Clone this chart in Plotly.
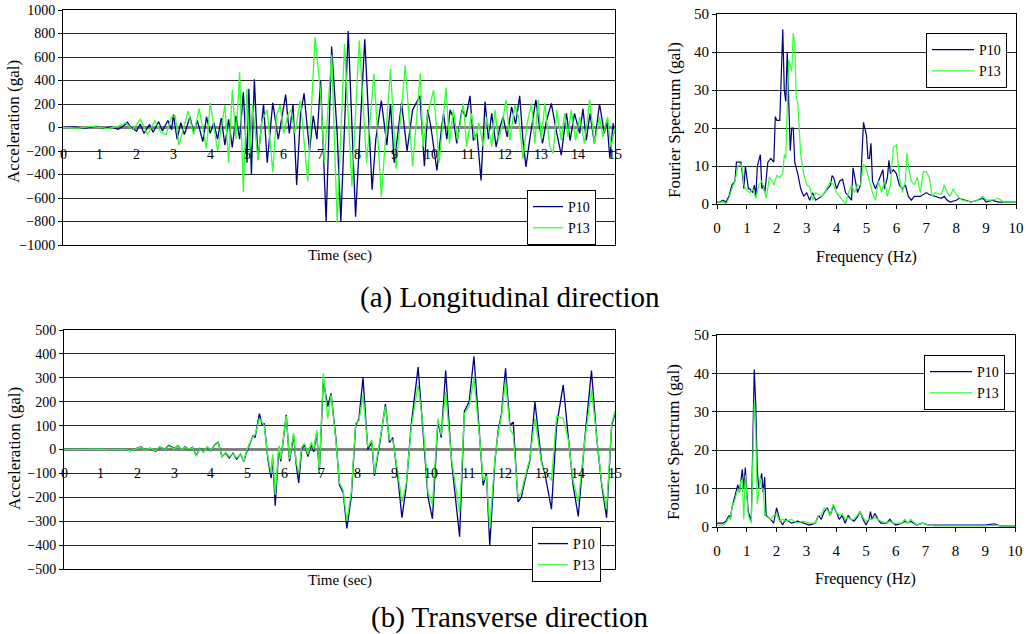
import plotly.graph_objects as go

FONT = "Liberation Serif, Times New Roman, serif"
BLUE = "#000080"
GREEN = "#33FF33"
W, H = 1026, 634

# ---------------- data ----------------
series_names = ["P10", "P13"]
time_ticks = list(range(0, 16))
freq_ticks = list(range(0, 11))

# (a) Longitudinal, acceleration time history (time s, gal)
a_time_p10 = [(0.0, 0), (0.3, 5), (0.6, -5), (0.9, 10), (1.1, -10), (1.3, 5), (1.5, -15), (1.65, 15),
              (1.75, 45), (1.85, 0), (2.0, -30), (2.1, 30), (2.2, -50), (2.35, 25), (2.45, -40),
              (2.6, 50), (2.7, -30), (2.85, 60), (2.95, -20), (3.0, 110), (3.1, -100), (3.2, 40),
              (3.3, -60), (3.45, 90), (3.55, -40), (3.65, 60), (3.8, -120), (3.9, 90), (4.0, -50),
              (4.1, 40), (4.2, -100), (4.3, 80), (4.4, -150), (4.5, 70), (4.6, -170), (4.7, 100),
              (4.8, -100), (4.9, 300), (5.0, -300), (5.05, 330), (5.12, -400), (5.2, 410), (5.3, -270),
              (5.45, 200), (5.55, -300), (5.7, 210), (5.85, -100), (5.95, 80), (6.05, 280), (6.15, -50),
              (6.25, 200), (6.35, -490), (6.45, 100), (6.55, 290), (6.7, -200), (6.8, 100), (6.9, -100),
              (7.0, 400), (7.15, -800), (7.3, 690), (7.45, -50), (7.55, -800), (7.75, 820), (7.95, -760),
              (8.1, 200), (8.2, 750), (8.4, -530), (8.5, -100), (8.65, 230), (8.8, -150), (8.9, 200),
              (9.0, -300), (9.2, 210), (9.35, -200), (9.5, 150), (9.7, 270), (9.82, -330), (9.91, 150),
              (10.0, 0), (10.16, -365), (10.27, -50), (10.34, 120), (10.43, -100), (10.52, 150),
              (10.6, 90), (10.7, -135), (10.84, 150), (10.95, 90), (11.06, 270), (11.15, -110),
              (11.25, -50), (11.36, -450), (11.47, 220), (11.56, -100), (11.65, 120), (11.77, -165),
              (11.87, 0), (11.96, 90), (12.07, -80), (12.19, 175), (12.3, 30), (12.41, 270), (12.5, -110),
              (12.58, -335), (12.68, -110), (12.85, 235), (12.95, 0), (13.03, -135), (13.14, 60),
              (13.27, 205), (13.4, -20), (13.54, -235), (13.68, 120), (13.78, -110), (13.9, 120),
              (14.04, -50), (14.13, 160), (14.22, -110), (14.32, 120), (14.44, -135), (14.58, 200),
              (14.71, -50), (14.78, 60), (14.86, -260), (14.95, 35), (15.0, -50)]

a_time_p13 = [(0.0, 0), (0.4, -5), (0.8, 10), (1.2, -10), (1.5, 10), (1.7, 40), (1.9, -20), (2.1, 70),
              (2.3, -60), (2.5, 60), (2.65, -40), (2.8, -60), (2.95, 90), (3.05, 100), (3.15, -150),
              (3.4, 140), (3.55, -60), (3.7, 160), (3.9, -180), (4.0, 210), (4.2, -200), (4.4, 190),
              (4.5, -300), (4.6, 320), (4.7, -100), (4.8, 470), (4.9, -550), (5.0, 330), (5.07, -250),
              (5.15, 200), (5.3, -280), (5.4, 50), (5.55, 150), (5.7, -380), (5.8, 100), (5.9, 190),
              (6.0, -50), (6.1, 100), (6.2, 150), (6.3, -50), (6.45, 230), (6.65, -460), (6.85, 770),
              (7.0, 300), (7.1, -300), (7.3, 620), (7.45, -810), (7.65, 710), (7.85, -500), (8.05, 740),
              (8.25, -300), (8.45, 460), (8.65, -590), (8.9, 500), (9.05, -350), (9.3, 530), (9.5, -330),
              (9.71, 460), (9.78, -165), (9.9, 100), (10.07, 320), (10.22, -300), (10.41, 340),
              (10.5, -135), (10.61, 150), (10.72, -110), (10.88, 205), (10.97, -165), (11.1, 120),
              (11.2, -110), (11.3, 40), (11.42, -165), (11.51, 90), (11.65, -165), (11.74, 150),
              (11.83, -110), (11.93, 20), (12.04, 235), (12.14, -110), (12.28, 190), (12.38, 90),
              (12.5, -265), (12.61, 30), (12.73, 205), (12.82, -135), (12.91, 235), (13.0, -110),
              (13.09, 205), (13.23, -165), (13.32, -220), (13.42, 150), (13.54, -110), (13.63, 120),
              (13.72, -80), (13.81, 150), (13.93, -110), (14.04, 90), (14.17, -135), (14.31, 235),
              (14.44, -135), (14.58, 90), (14.67, -80), (14.8, 90), (14.89, -165), (15.0, 0)]

# (a) Longitudinal, Fourier spectrum (Hz, gal)
a_spec_p10 = [(0.0, 0.5), (0.1, 0.5), (0.2, 1), (0.3, 0.5), (0.4, 2), (0.5, 5), (0.6, 6), (0.65, 11),
              (0.7, 11), (0.8, 11), (0.85, 8), (0.9, 4), (0.95, 10), (1.0, 6), (1.05, 4), (1.1, 4),
              (1.2, 3), (1.25, 5), (1.3, 2), (1.35, 10), (1.45, 13), (1.5, 4), (1.55, 5), (1.6, 3),
              (1.7, 11), (1.8, 12), (1.9, 11), (1.95, 23), (2.0, 22), (2.1, 22), (2.2, 46), (2.25, 30),
              (2.3, 27), (2.35, 40), (2.4, 25), (2.45, 14), (2.5, 20), (2.55, 20), (2.6, 11), (2.7, 8),
              (2.8, 4), (2.9, 2), (3.0, 3), (3.1, 1), (3.2, 3), (3.3, 1), (3.5, 2), (3.6, 3), (3.8, 5),
              (3.85, 7.5), (3.9, 7), (4.0, 4), (4.1, 6), (4.2, 6.5), (4.3, 3), (4.4, 2), (4.5, 1),
              (4.55, 9.5), (4.6, 7), (4.7, 3), (4.8, 5), (4.9, 21.5), (5.0, 18), (5.05, 12), (5.1, 12),
              (5.15, 16), (5.2, 6), (5.3, 4), (5.4, 6), (5.5, 8), (5.55, 9), (5.6, 4), (5.7, 7),
              (5.75, 11.5), (5.8, 8), (5.9, 9), (6.0, 8), (6.1, 5), (6.2, 4), (6.3, 5), (6.4, 2),
              (6.5, 1), (6.6, 2), (6.8, 2), (7.0, 3), (7.1, 2.5), (7.3, 2), (7.5, 1.5), (7.6, 2),
              (7.7, 1), (7.8, 0.5), (8.0, 1), (8.1, 1.5), (8.3, 1), (8.5, 0.5), (8.7, 1), (8.9, 1.5),
              (9.0, 0.5), (9.2, 1), (9.4, 0.5), (9.6, 0.5), (9.8, 0.5), (10.0, 0.5)]

a_spec_p13 = [(0.0, 0.5), (0.2, 0.5), (0.3, 0), (0.4, 1.5), (0.5, 4), (0.6, 6), (0.7, 10), (0.8, 10.5),
              (0.85, 9), (0.9, 5), (1.0, 3.5), (1.1, 3), (1.2, 4), (1.3, 1.5), (1.4, 5), (1.5, 6),
              (1.6, 3), (1.65, 1.5), (1.75, 7), (1.85, 6), (1.9, 5), (2.0, 7.5), (2.1, 7), (2.2, 8),
              (2.25, 13), (2.3, 12), (2.4, 38), (2.45, 36), (2.5, 35), (2.55, 45), (2.6, 42), (2.65, 28),
              (2.7, 27), (2.8, 13), (2.9, 8), (3.0, 5), (3.1, 4.5), (3.2, 1), (3.3, 3), (3.5, 2),
              (3.6, 3), (3.8, 6), (3.9, 5), (4.0, 3), (4.1, 2), (4.2, 1), (4.3, 0), (4.4, 3), (4.5, 5),
              (4.6, 3), (4.7, 5), (4.8, 5), (4.9, 10.5), (5.0, 9), (5.1, 6), (5.2, 3), (5.3, 1),
              (5.4, 6), (5.5, 3), (5.6, 6), (5.7, 2), (5.8, 5), (5.9, 15), (6.0, 15.5), (6.1, 7),
              (6.2, 3), (6.3, 6), (6.35, 13.5), (6.4, 10), (6.5, 6), (6.6, 5), (6.7, 7), (6.8, 3),
              (6.9, 8.5), (7.0, 8.5), (7.1, 7), (7.2, 2), (7.3, 3), (7.5, 2.5), (7.6, 5), (7.7, 3),
              (7.8, 2), (7.9, 4), (8.0, 2.5), (8.2, 1), (8.5, 0.5), (8.7, 1), (8.9, 2), (9.0, 1),
              (9.2, 1), (9.4, 1.5), (9.6, 0.5), (9.8, 0.5), (10.0, 0.5)]

# (b) Transverse, acceleration time history (time s, gal)
b_time_p10 = [(0.0, 0), (0.5, 0), (1.0, 3), (1.3, -2), (1.6, 2), (1.8, -5), (2.0, 5), (2.1, 12), (2.2, -3),
              (2.35, 5), (2.5, -8), (2.6, 10), (2.75, 2), (2.85, 18), (3.0, 5), (3.1, 15), (3.2, -3),
              (3.3, 12), (3.4, 0), (3.5, 10), (3.6, -25), (3.7, 5), (3.8, -10), (3.9, 10), (4.0, -5),
              (4.1, 20), (4.2, 30), (4.3, -30), (4.4, -15), (4.5, -35), (4.6, -15), (4.7, -40),
              (4.8, -20), (4.9, -50), (4.95, -20), (5.05, 20), (5.15, 60), (5.2, 50), (5.32, 150),
              (5.4, 100), (5.45, 110), (5.55, -40), (5.64, -120), (5.68, -30), (5.75, -235), (5.85, 10),
              (5.9, -50), (6.05, 145), (6.14, -50), (6.25, 60), (6.32, -60), (6.39, -140), (6.47, 0),
              (6.55, 20), (6.64, -30), (6.73, 20), (6.8, -10), (6.88, 70), (6.95, -100), (7.06, 290),
              (7.18, 180), (7.27, 235), (7.4, 50), (7.5, -150), (7.6, -180), (7.7, -330), (7.82, -200),
              (7.94, 100), (8.03, 130), (8.14, 300), (8.27, 0), (8.38, 30), (8.45, -110), (8.6, 30),
              (8.75, 190), (8.86, 30), (8.95, 50), (9.09, -120), (9.2, -285), (9.32, -150), (9.45, 100),
              (9.64, 345), (9.77, 100), (9.91, -200), (10.03, -290), (10.18, 120), (10.27, 50),
              (10.39, 330), (10.55, -50), (10.77, -365), (10.9, 160), (11.03, 200), (11.16, 390),
              (11.32, 50), (11.41, -150), (11.5, -100), (11.59, -400), (11.73, -50), (11.82, 80),
              (11.91, 150), (12.02, 340), (12.14, 100), (12.23, 115), (12.36, -220), (12.45, -200),
              (12.59, -100), (12.68, -50), (12.82, 200), (13.0, -50), (13.09, -100), (13.27, -250),
              (13.41, 100), (13.59, 270), (13.73, 50), (13.86, -150), (14.0, -280), (14.18, 50),
              (14.36, 330), (14.5, 50), (14.64, -150), (14.77, -285), (14.91, 100), (15.0, 150)]

b_time_p13 = [(0.0, 0), (0.5, 0), (1.0, 2), (1.3, -2), (1.6, 2), (1.8, -5), (2.0, 4), (2.1, 10), (2.2, -4),
              (2.35, 6), (2.5, -6), (2.6, 12), (2.75, 0), (2.85, 15), (3.0, 3), (3.1, 18), (3.2, -2),
              (3.3, 10), (3.4, 2), (3.5, 8), (3.6, -28), (3.7, 3), (3.8, -12), (3.9, 12), (4.0, -3),
              (4.1, 18), (4.2, 28), (4.3, -32), (4.4, -12), (4.5, -30), (4.6, -18), (4.7, -35),
              (4.8, -22), (4.9, -48), (4.95, -15), (5.05, 25), (5.15, 55), (5.2, 60), (5.32, 130),
              (5.4, 110), (5.45, 100), (5.55, -30), (5.64, -100), (5.68, -20), (5.75, -190), (5.85, 15),
              (5.9, -40), (6.05, 140), (6.14, -40), (6.25, 70), (6.32, -50), (6.39, -100), (6.47, 10),
              (6.55, 25), (6.64, -20), (6.73, 30), (6.8, 0), (6.88, 80), (6.95, -95), (7.06, 320),
              (7.18, 130), (7.27, 230), (7.4, 40), (7.5, -140), (7.6, -170), (7.7, -300), (7.82, -180),
              (7.94, 110), (8.03, 120), (8.14, 230), (8.27, 10), (8.38, 40), (8.45, -100), (8.6, 40),
              (8.75, 180), (8.86, 40), (8.95, 40), (9.09, -100), (9.2, -220), (9.32, -140), (9.45, 90),
              (9.64, 270), (9.77, 110), (9.91, -180), (10.03, -230), (10.18, 130), (10.27, 60),
              (10.39, 240), (10.55, -40), (10.77, -265), (10.9, 150), (11.03, 180), (11.16, 300),
              (11.32, 40), (11.41, -130), (11.5, -110), (11.59, -330), (11.73, -40), (11.82, 70),
              (11.91, 140), (12.02, 290), (12.14, 90), (12.23, 60), (12.36, -200), (12.45, -180),
              (12.59, -90), (12.68, -40), (12.82, 130), (13.0, -60), (13.09, -90), (13.27, -130),
              (13.41, 140), (13.59, 130), (13.73, 40), (13.86, -130), (14.0, -220), (14.18, 40),
              (14.36, 250), (14.5, 40), (14.64, -140), (14.77, -250), (14.91, 110), (15.0, 160)]

# (b) Transverse, Fourier spectrum (Hz, gal)
b_spec_p10 = [(0.0, 1), (0.1, 1), (0.2, 1), (0.3, 1.5), (0.4, 3), (0.45, 2), (0.5, 5), (0.6, 8), (0.7, 11),
              (0.75, 9), (0.8, 13), (0.85, 15), (0.9, 10), (0.95, 15.5), (1.0, 9), (1.05, 4), (1.15, 1.5),
              (1.25, 41), (1.3, 32), (1.35, 15), (1.4, 10), (1.45, 12), (1.5, 14), (1.55, 9), (1.6, 13),
              (1.65, 3), (1.8, 2), (1.9, 1), (2.0, 5), (2.1, 2), (2.2, 0.5), (2.3, 2), (2.5, 1),
              (2.7, 1.5), (2.9, 1), (3.1, 0.5), (3.3, 1), (3.4, 3), (3.5, 2), (3.6, 4), (3.7, 5),
              (3.8, 3), (3.9, 5.5), (4.0, 4), (4.1, 2), (4.2, 3), (4.3, 1), (4.4, 3), (4.5, 2),
              (4.6, 1.5), (4.7, 2.5), (4.8, 4), (4.9, 2), (5.0, 0.5), (5.1, 2), (5.15, 4), (5.2, 2),
              (5.3, 3.5), (5.4, 2), (5.5, 1), (5.7, 1), (5.8, 2), (5.9, 1), (6.0, 0.5), (6.2, 1),
              (6.3, 1.5), (6.4, 1), (6.5, 1.5), (6.7, 0.5), (6.9, 1), (7.1, 0.5), (7.3, 0.5), (7.5, 0.5),
              (8.0, 0.5), (8.5, 0.5), (9.0, 0.5), (9.3, 0.8), (9.5, 0.3), (10.0, 0.3)]

b_spec_p13 = [(0.0, 0.5), (0.1, 0.5), (0.2, 0.5), (0.3, 1), (0.4, 2.5), (0.45, 2), (0.5, 5), (0.6, 7),
              (0.7, 10), (0.75, 9), (0.8, 12), (0.85, 12), (0.9, 2), (0.95, 13.5), (1.0, 8), (1.05, 3),
              (1.15, 1), (1.25, 32.5), (1.3, 25), (1.35, 6), (1.4, 9), (1.45, 13), (1.5, 10), (1.55, 10),
              (1.6, 3), (1.7, 2.5), (1.8, 2), (1.9, 3), (2.0, 3.5), (2.1, 1.5), (2.2, 2), (2.3, 1.5),
              (2.5, 2), (2.7, 1), (2.9, 1.5), (3.1, 1), (3.3, 1), (3.4, 3), (3.5, 3), (3.6, 5),
              (3.7, 4.5), (3.8, 3), (3.9, 6), (4.0, 4), (4.1, 3), (4.2, 3.5), (4.3, 2), (4.4, 2.5),
              (4.5, 2), (4.6, 2), (4.7, 3), (4.8, 4), (4.9, 2.5), (5.0, 1.5), (5.1, 2), (5.2, 2),
              (5.3, 2.5), (5.4, 2), (5.5, 1.5), (5.7, 1), (5.8, 1.5), (5.9, 1), (6.0, 1), (6.2, 1),
              (6.3, 2), (6.4, 1), (6.5, 2), (6.7, 0.5), (6.9, 1), (7.1, 0.5), (7.3, 0.3), (7.5, 0.3),
              (8.0, 0.3), (8.5, 0.3), (9.0, 0.3), (9.3, 0.5), (9.5, 0.3), (10.0, 0.3)]

# ---------------- figure ----------------
fig = go.Figure()


def add(pairs, name, color, xa, ya, legend, width):
    x, y = zip(*pairs)
    fig.add_trace(go.Scatter(x=list(x), y=list(y), mode="lines", name=name,
                             line=dict(color=color, width=width),
                             xaxis=xa, yaxis=ya, legend=legend))


add(a_time_p10, series_names[0], BLUE, "x", "y", "legend", 1.3)
add(a_time_p13, series_names[1], GREEN, "x", "y", "legend", 1.3)
add(a_spec_p10, series_names[0], BLUE, "x2", "y2", "legend2", 1.2)
add(a_spec_p13, series_names[1], GREEN, "x2", "y2", "legend2", 1.2)
add(b_time_p10, series_names[0], BLUE, "x3", "y3", "legend3", 1.3)
add(b_time_p13, series_names[1], GREEN, "x3", "y3", "legend3", 1.3)
add(b_spec_p10, series_names[0], BLUE, "x4", "y4", "legend4", 1.2)
add(b_spec_p13, series_names[1], GREEN, "x4", "y4", "legend4", 1.2)


def xdom(p0, p1):
    return [p0 / W, p1 / W]


def ydom(top, bottom):
    return [1 - bottom / H, 1 - top / H]


tickfont = dict(family=FONT, size=14, color="black")
spectick = dict(family=FONT, size=15, color="black")
common = dict(showline=True, mirror=True, linecolor="black", linewidth=1,
              automargin=False, fixedrange=True)

time_x = dict(common, range=[0, 15], showgrid=False, zeroline=False,
              showticklabels=False, ticks="")
spec_x = dict(common, tickfont=spectick, tickvals=freq_ticks, range=[0, 10], showgrid=False,
              zeroline=False, ticks="outside", ticklen=4, tickcolor="black", ticklabelstandoff=6)
grid = dict(showgrid=True, gridcolor="#262626", gridwidth=1, ticks="outside",
            ticklen=4, tickcolor="black")

fig.update_layout(
    width=W, height=H, template="none",
    paper_bgcolor="white", plot_bgcolor="white",
    margin=dict(l=0, r=0, t=0, b=0),
    font=dict(family=FONT, color="black"),
    xaxis=dict(time_x, domain=xdom(63, 615), anchor="y"),
    yaxis=dict(common, **grid, tickfont=tickfont, domain=ydom(10, 245), range=[-1000, 1000],
               dtick=200, zeroline=True, zerolinecolor="#7f7f7f", zerolinewidth=3, anchor="x"),
    xaxis2=dict(spec_x, domain=xdom(717, 1016), anchor="y2"),
    yaxis2=dict(common, **grid, tickfont=spectick, domain=ydom(14, 204), range=[0, 50], dtick=10,
                zeroline=False, anchor="x2"),
    xaxis3=dict(time_x, domain=xdom(64, 615), anchor="y3"),
    yaxis3=dict(common, **grid, tickfont=tickfont, domain=ydom(330, 569), range=[-500, 500],
                dtick=100, zeroline=True, zerolinecolor="#7f7f7f", zerolinewidth=3, anchor="x3"),
    xaxis4=dict(spec_x, domain=xdom(717, 1015), anchor="y4"),
    yaxis4=dict(common, **grid, tickfont=spectick, domain=ydom(335, 527), range=[0, 50], dtick=10,
                zeroline=False, anchor="x4"),
)

legend_style = dict(xanchor="left", yanchor="top", bgcolor="white", bordercolor="black",
                    borderwidth=1, font=dict(family=FONT, size=14, color="black"),
                    tracegroupgap=0, itemwidth=30)
fig.update_layout(
    showlegend=True,
    legend=dict(legend_style, x=527 / W, y=1 - 190 / H),
    legend2=dict(legend_style, x=926 / W, y=1 - 33 / H, itemwidth=42),
    legend3=dict(legend_style, x=532 / W, y=1 - 527 / H),
    legend4=dict(legend_style, x=924 / W, y=1 - 355 / H, itemwidth=42),
)

ann = []
# time-axis tick labels sit just below the zero line (Excel style)
for t in time_ticks:
    ann.append(dict(x=t, y=0, xref="x", yref="y", text=str(t), showarrow=False,
                    yshift=-27, font=tickfont))
    ann.append(dict(x=t, y=0, xref="x3", yref="y3", text=str(t), showarrow=False,
                    yshift=-24, font=tickfont))


def label(text, px, py, size=12, angle=0):
    ann.append(dict(x=px / W, y=1 - py / H, xref="paper", yref="paper", text=text,
                    showarrow=False, textangle=angle, xanchor="center", yanchor="middle",
                    font=dict(family=FONT, size=size, color="black")))


label("Acceleration (gal)", 13, 122, 17, -90)
label("Time (sec)", 340, 256, 15)
label("Fourier Spectrum (gal)", 675, 120, 17, -90)
label("Frequency (Hz)", 866, 257, 16)
label("Acceleration (gal)", 14, 449, 17, -90)
label("Time (sec)", 340, 580, 15)
label("Fourier Spectrum (gal)", 673, 442, 17, -90)
label("Frequency (Hz)", 865, 579, 16)
label("(a) Longitudinal direction", 510, 297, 29)
label("(b) Transverse direction", 510, 617, 29)

fig.update_layout(annotations=ann)

fig.write_html("out.html", config={"displayModeBar": False},
               post_script="document.body.style.margin='0';document.body.style.overflow='hidden';")
